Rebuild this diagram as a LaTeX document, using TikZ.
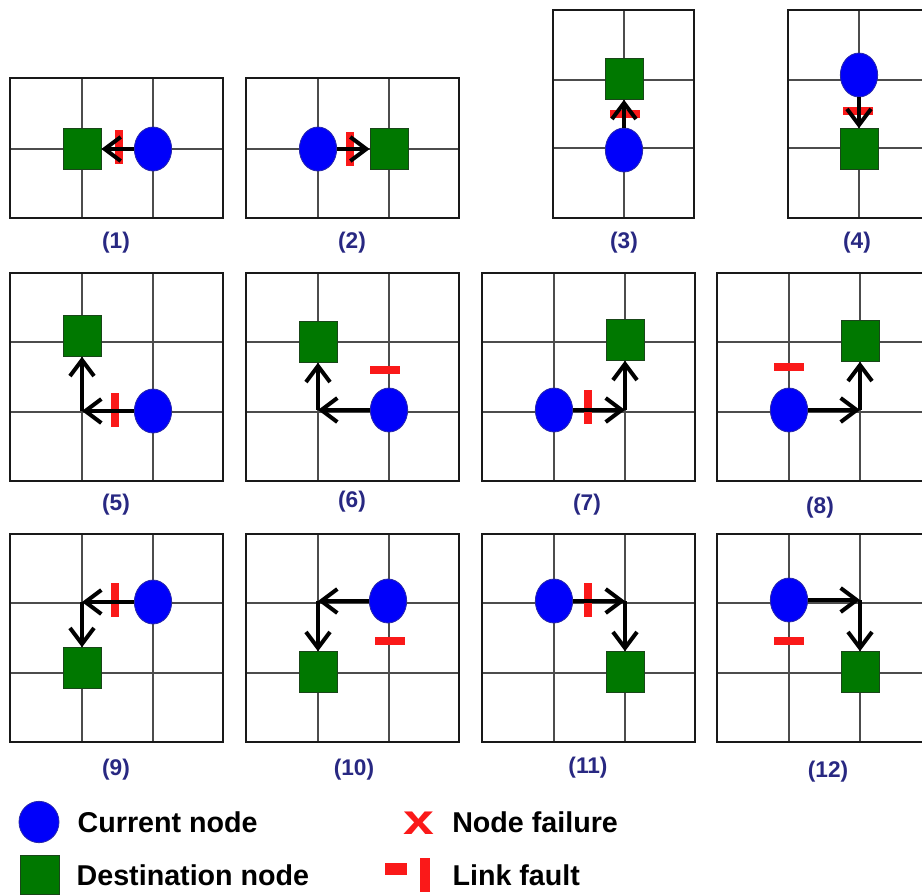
\documentclass[tikz,border=0pt]{standalone}
\usepackage{fontspec}
\setmainfont{Liberation Sans}
\usepackage{xcolor}
\usetikzlibrary{arrows.meta, positioning, shapes.geometric}

\definecolor{curblue}{RGB}{0,0,250}
\definecolor{curedge}{RGB}{40,40,170}
\definecolor{dstgreen}{RGB}{0,120,0}
\definecolor{dstedge}{RGB}{25,70,25}
\definecolor{faultred}{RGB}{250,25,25}
\definecolor{labnavy}{RGB}{40,40,130}

\begin{document}
\begin{tikzpicture}[x=0.75pt, y=-0.75pt,
  frame/.style={line width=2.2pt, draw=black!90},
  gridln/.style={line width=1pt, draw=black!70},
  cur/.style={ellipse, fill=curblue, draw=curedge, line width=0.6pt, minimum width=28pt, minimum height=33pt, inner sep=0pt},
  dst/.style={rectangle, fill=dstgreen, draw=dstedge, line width=0.6pt, minimum width=28.5pt, minimum height=30.5pt, inner sep=0pt},
  vfault/.style={rectangle, fill=faultred, minimum width=5.5pt, minimum height=26pt, inner sep=0pt},
  hfault/.style={rectangle, fill=faultred, minimum width=23pt, minimum height=6pt, inner sep=0pt},
  arr/.style={-{Straight Barb[length=12pt, width=18pt]}, line width=3pt},
  lab/.style={font=\bfseries\fontsize{17}{18}\selectfont, text=labnavy, inner sep=0pt},
  leg/.style={font=\bfseries\fontsize{21.5}{24}\selectfont, inner sep=0pt}
]
\useasboundingbox (0,0) rectangle (922,894);
\clip (0,0) rectangle (922,894);

% panel grids
\foreach \x in {10,246} {
  \draw[gridln] (\x+72,78) -- (\x+72,218) (\x+143,78) -- (\x+143,218) (\x,149) -- (\x+213,149);
  \draw[frame] (\x,78) rectangle (\x+213,218);
}
\foreach \x in {553,788} {
  \draw[gridln] (\x+71,10) -- (\x+71,218) (\x,80) -- (\x+141,80) (\x,148) -- (\x+141,148);
  \draw[frame] (\x,10) rectangle (\x+141,218);
}
\foreach \y in {273,534} \foreach \x in {10,246,482,717} {
  \draw[gridln] (\x+72,\y) -- (\x+72,\y+208) (\x+143,\y) -- (\x+143,\y+208)
                (\x,\y+69) -- (\x+213,\y+69) (\x,\y+139) -- (\x+213,\y+139);
  \draw[frame] (\x,\y) rectangle (\x+213,\y+208);
}

% (1) - (4)
\node[vfault] (fault1) at (119,147) {};
\node[dst] (dst1) at (82,149) {};
\node[cur] (cur1) at (153,149) {};
\draw[arr] (cur1) -- (dst1);

\node[vfault] (fault2) at (350,149) {};
\node[cur] (cur2) at (318,149) {};
\node[dst] (dst2) at (389,149) {};
\draw[arr] (cur2) -- (dst2);

\node[hfault] (fault3) at (625,114) {};
\node[dst] (dst3) at (624,79) {};
\node[cur] (cur3) at (624,150) {};
\draw[arr] (cur3) -- (dst3);

\node[hfault] (fault4) at (858,111) {};
\node[cur] (cur4) at (859,75) {};
\node[dst] (dst4) at (859,149) {};
\draw[arr] (cur4) -- (dst4);

% (5) - (8)
\node[vfault] (fault5) at (115,410) {};
\node[dst] (dst5) at (82,336) {};
\node[cur] (cur5) at (153,411) {};
\coordinate (c5) at (82,411);
\draw[arr] (cur5) -- (c5);
\draw[arr] (c5) -- (dst5);

\node[hfault] (fault6) at (385,370) {};
\node[dst] (dst6) at (318,342) {};
\node[cur] (cur6) at (389,410) {};
\coordinate (c6) at (318,410);
\draw[arr] (cur6) -- (c6);
\draw[arr] (c6) -- (dst6);

\node[vfault] (fault7) at (588,407) {};
\node[cur] (cur7) at (554,410) {};
\node[dst] (dst7) at (625,340) {};
\coordinate (c7) at (625,410);
\draw[arr] (cur7) -- (c7);
\draw[arr] (c7) -- (dst7);

\node[hfault] (fault8) at (789,367) {};
\node[cur] (cur8) at (789,410) {};
\node[dst] (dst8) at (860,341) {};
\coordinate (c8) at (860,410);
\draw[arr] (cur8) -- (c8);
\draw[arr] (c8) -- (dst8);

% (9) - (12)
\node[vfault] (fault9) at (115,600) {};
\node[cur] (cur9) at (153,602) {};
\node[dst] (dst9) at (82,668) {};
\coordinate (c9) at (82,602);
\draw[arr] (cur9) -- (c9);
\draw[arr] (c9) -- (dst9);

\node[hfault] (fault10) at (390,641) {};
\node[cur] (cur10) at (388,601) {};
\node[dst] (dst10) at (318,672) {};
\coordinate (c10) at (318,601);
\draw[arr] (cur10) -- (c10);
\draw[arr] (c10) -- (dst10);

\node[vfault] (fault11) at (588,600) {};
\node[cur] (cur11) at (554,601) {};
\node[dst] (dst11) at (625,672) {};
\coordinate (c11) at (625,601);
\draw[arr] (cur11) -- (c11);
\draw[arr] (c11) -- (dst11);

\node[hfault] (fault12) at (789,641) {};
\node[cur] (cur12) at (789,600) {};
\node[dst] (dst12) at (860,672) {};
\coordinate (c12) at (860,600);
\draw[arr] (cur12) -- (c12);
\draw[arr] (c12) -- (dst12);

% captions
\node[lab] (lab1) at (116,243) {(1)};
\node[lab] (lab2) at (352,243) {(2)};
\node[lab] (lab3) at (624,243) {(3)};
\node[lab] (lab4) at (857,243) {(4)};
\node[lab] (lab5) at (116,505) {(5)};
\node[lab] (lab6) at (352,502) {(6)};
\node[lab] (lab7) at (587,505) {(7)};
\node[lab] (lab8) at (820,508) {(8)};
\node[lab] (lab9) at (116,770) {(9)};
\node[lab] (lab10) at (354,770) {(10)};
\node[lab] (lab11) at (588,768) {(11)};
\node[lab] (lab12) at (828,772) {(12)};

% legend
\node[cur, minimum width=30pt, minimum height=31pt] (legcur) at (39,822) {};
\node[dst, minimum width=29pt, minimum height=29pt] (legdst) at (40,875) {};
\node[leg, right=13.5pt of legcur] (txtcur) {Current node};
\node[leg, right=12.5pt of legdst] (txtdst) {Destination node};
\node[text=faultred, font=\bfseries\fontsize{32}{32}\selectfont, inner sep=0pt] (failmark) at (419,823) {\scalebox{1.3}[1]{x}};
\node[rectangle, fill=faultred, minimum width=16.5pt, minimum height=9pt, inner sep=0pt] (lfdash) at (396,869) {};
\node[rectangle, fill=faultred, minimum width=7.5pt, minimum height=26pt, inner sep=0pt] (lfbar) at (425,875) {};
\node[leg, anchor=west] (txtfail) at (452,822) {Node failure};
\node[leg, right=16.5pt of lfbar] (txtlink) {Link fault};
\end{tikzpicture}
\end{document}
